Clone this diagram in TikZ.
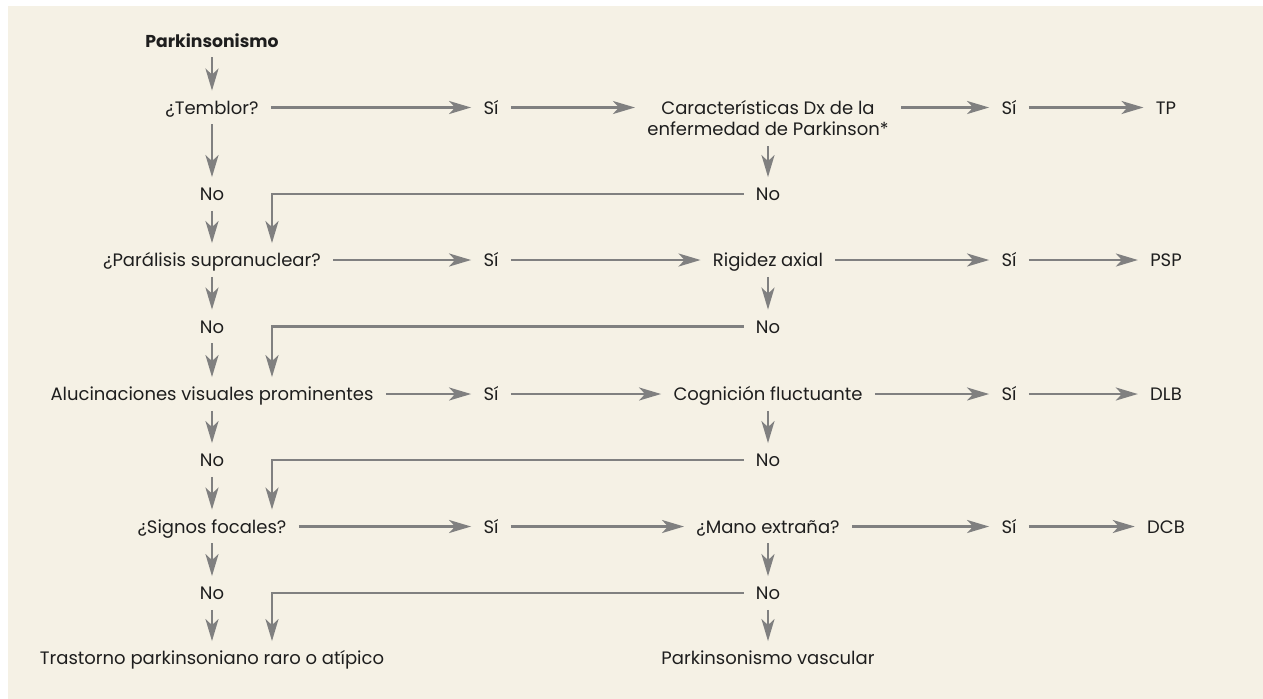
\documentclass[tikz,border=0pt]{standalone}
\usepackage{fontspec}
\setmainfont{Poppins}
\usepackage{xcolor}
\usepackage{tikz}
\usetikzlibrary{arrows.meta, positioning}

\definecolor{panelbg}{RGB}{245,241,229}
\definecolor{arrgray}{RGB}{128,128,128}
\definecolor{txtcol}{RGB}{30,30,30}

\begin{document}
\begin{tikzpicture}[
  x=0.5pt, y=-0.5pt,
  lbl/.style={inner xsep=6pt, inner ysep=5pt, text height=6.5pt, text depth=0pt,
    font=\fontsize{9}{10.5}\selectfont, text=txtcol},
  lbltwo/.style={inner xsep=6pt, inner ysep=5pt, align=center,
    font=\fontsize{9}{10.5}\selectfont, text=txtcol},
  arr/.style={-{Stealth[length=11pt, width=6.5pt, inset=3pt]}, draw=arrgray, line width=1.25pt},
  link/.style={draw=arrgray, line width=1.25pt}
]
  \useasboundingbox (0,0) rectangle (1263,698);
  \fill[white] (0,0) rectangle (1263,698);
  \fill[panelbg] (8,6) rectangle (1264,699);

  \coordinate (bend) at (272,0);

  % left column
  \node[lbl, font=\fontsize{8.6}{10.5}\selectfont\bfseries] (park) at (212,40.5) {Parkinsonismo};
  \node[lbl] (q1)  at (212,107.5) {¿Temblor?};
  \node[lbl] (nA1) at (212,194)   {No};
  \node[lbl] (q2)  at (212,260)   {¿Parálisis supranuclear?};
  \node[lbl] (nA2) at (212,326.5) {No};
  \node[lbl] (q3)  at (212,394)   {Alucinaciones visuales prominentes};
  \node[lbl] (nA3) at (212,460)   {No};
  \node[lbl] (q4)  at (212,526.5) {¿Signos focales?};
  \node[lbl] (nA4) at (212,593)   {No};
  \node[lbl] (fin1) at (212,658)  {Trastorno parkinsoniano raro o atípico};

  % yes column
  \node[lbl] (s1) at (491,107.5) {Sí};
  \node[lbl] (s2) at (491,260)   {Sí};
  \node[lbl] (s3) at (491,394)   {Sí};
  \node[lbl] (s4) at (491,526.5) {Sí};

  % second question column
  \node[lbltwo, anchor=north] (c1) at (768,90) {Características Dx de la\\enfermedad de Parkinson*};
  \node[lbl] (nC1) at (768,194)   {No};
  \node[lbl] (c2)  at (768,260)   {Rigidez axial};
  \node[lbl] (nC2) at (768,326.5) {No};
  \node[lbl] (c3)  at (768,394)   {Cognición fluctuante};
  \node[lbl] (nC3) at (768,460)   {No};
  \node[lbl] (c4)  at (768,526.5) {¿Mano extraña?};
  \node[lbl] (nC4) at (768,593)   {No};
  \node[lbl] (fin2) at (768,658)  {Parkinsonismo vascular};

  % yes column and diagnoses
  \node[lbl] (d1) at (1009,107.5) {Sí};
  \node[lbl] (d2) at (1009,260)   {Sí};
  \node[lbl] (d3) at (1009,394)   {Sí};
  \node[lbl] (d4) at (1009,526.5) {Sí};
  \node[lbl] (r1) at (1166,107.5) {TP};
  \node[lbl] (r2) at (1166,260)   {PSP};
  \node[lbl] (r3) at (1166,394)   {DLB};
  \node[lbl] (r4) at (1166,526.5) {DCB};

  % vertical arrows, left
  \draw[arr] (park) -- (q1);
  \draw[arr] (q1)  -- (nA1);
  \draw[arr] (nA1) -- (q2);
  \draw[arr] (q2)  -- (nA2);
  \draw[arr] (nA2) -- (q3);
  \draw[arr] (q3)  -- (nA3);
  \draw[arr] (nA3) -- (q4);
  \draw[arr] (q4)  -- (nA4);
  \draw[arr] (nA4) -- (fin1);

  % vertical arrows, right
  \draw[arr] (c1)  -- (nC1);
  \draw[arr] (c2)  -- (nC2);
  \draw[arr] (c3)  -- (nC3);
  \draw[arr] (c4)  -- (nC4);
  \draw[arr] (nC4) -- (fin2);

  % back to the left column
  \draw[arr] (nC1.west) -| (bend |- q2.north);
  \draw[arr] (nC2.west) -| (bend |- q3.north);
  \draw[arr] (nC3.west) -| (bend |- q4.north);
  \draw[arr] (nC4.west) -| (bend |- fin1.north);

  % horizontal arrows
  \draw[arr] (q1) -- (s1);
  \draw[arr] (s1) -- (s1 -| c1.west);
  \draw[arr] (c1.east |- d1) -- (d1);
  \draw[arr] (d1) -- (r1);

  \draw[arr] (q2) -- (s2);
  \draw[arr] (s2) -- (c2);
  \draw[arr] (c2) -- (d2);
  \draw[arr] (d2) -- (r2);

  \draw[arr] (q3) -- (s3);
  \draw[arr] (s3) -- (c3);
  \draw[arr] (c3) -- (d3);
  \draw[arr] (d3) -- (r3);

  \draw[arr] (q4) -- (s4);
  \draw[arr] (s4) -- (c4);
  \draw[arr] (c4) -- (d4);
  \draw[arr] (d4) -- (r4);
\end{tikzpicture}
\end{document}
